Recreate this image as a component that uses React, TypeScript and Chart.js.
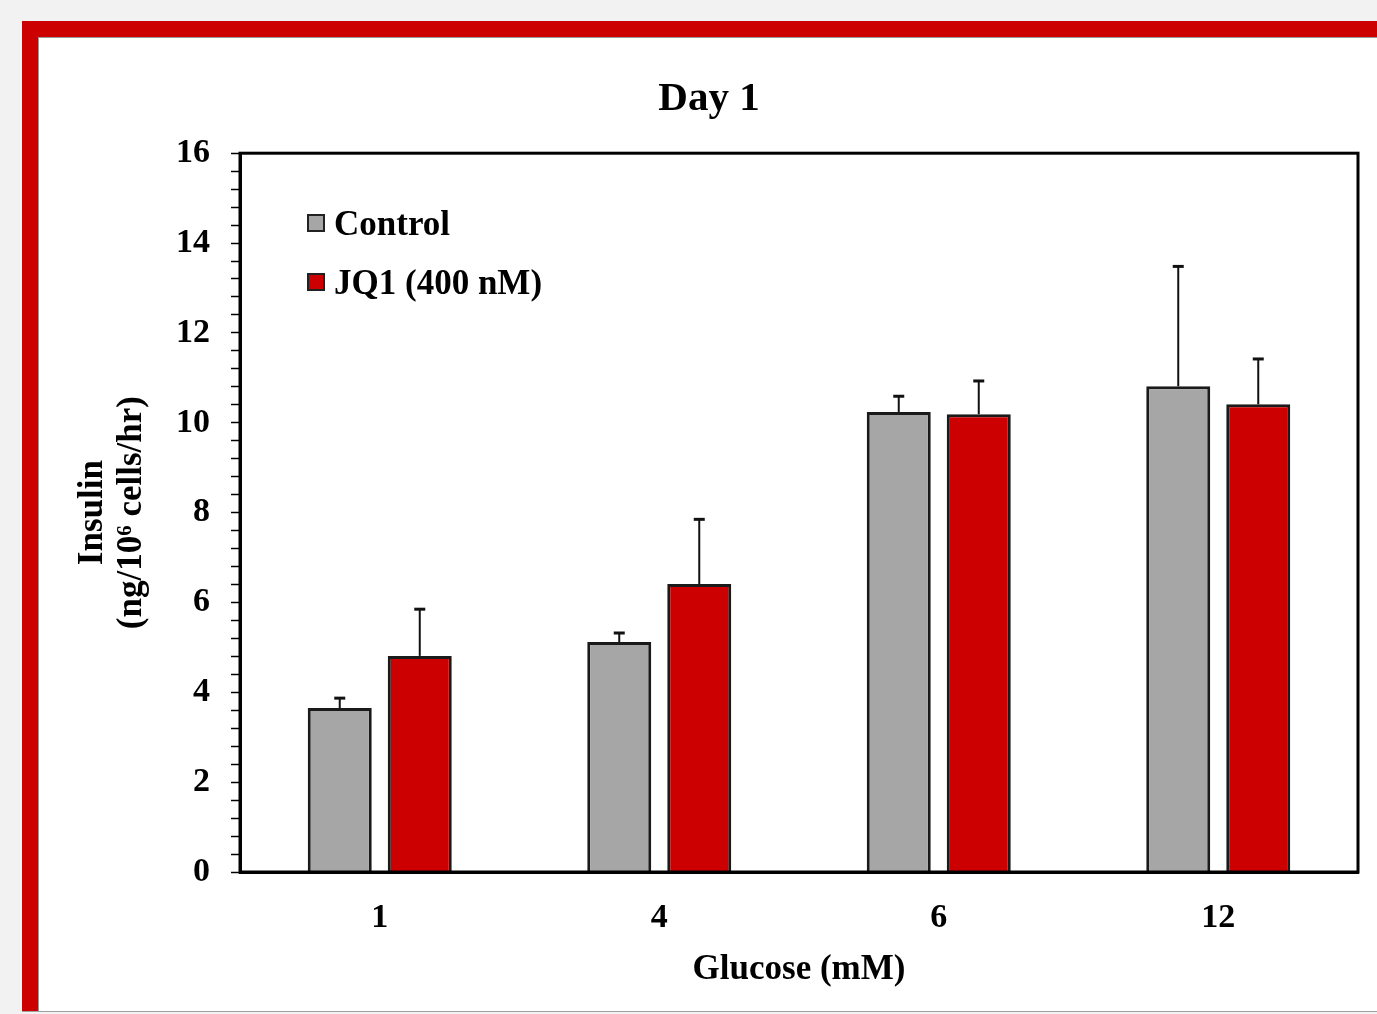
import React, { useEffect, useRef } from "react";
import { Chart, registerables } from "chart.js";

Chart.register(...registerables);

const categories = ["1", "4", "6", "12"];
const controlValues = [3.65, 5.12, 10.24, 10.81];
const controlErrors = [0.22, 0.2, 0.35, 2.67];
const jq1Values = [4.81, 6.41, 10.19, 10.41];
const jq1Errors = [1.04, 1.44, 0.74, 1.01];
const seriesLabels = ["Control", "JQ1 (400 nM)"];
const titleText = "Day 1";
const xTitle = "Glucose (mM)";
const yTitle = ["Insulin", "(ng/10\u2076 cells/hr)"];

const FONT = "'Liberation Serif', 'Times New Roman', serif";

const errorBarPlugin = {
  id: "errorBars",
  afterDatasetsDraw(chart: any) {
    const ctx = chart.ctx;
    const yScale = chart.scales.y;
    chart.data.datasets.forEach((ds: any, di: number) => {
      const meta = chart.getDatasetMeta(di);
      const errs: number[] = ds.errors || [];
      meta.data.forEach((bar: any, i: number) => {
        const v = ds.data[i];
        const e = errs[i];
        if (e == null) return;
        const yTop = yScale.getPixelForValue(v + e);
        const yBar = yScale.getPixelForValue(v);
        ctx.save();
        ctx.strokeStyle = "#111";
        ctx.lineWidth = 2;
        ctx.beginPath();
        ctx.moveTo(bar.x, yBar);
        ctx.lineTo(bar.x, yTop);
        ctx.stroke();
        ctx.lineWidth = 3;
        ctx.beginPath();
        ctx.moveTo(bar.x - 5.5, yTop);
        ctx.lineTo(bar.x + 5.5, yTop);
        ctx.stroke();
        ctx.restore();
      });
    });
  },
};

const framePlugin = {
  id: "frame",
  afterDraw(chart: any) {
    const { left, right, top, bottom } = chart.chartArea;
    const ctx = chart.ctx;
    ctx.save();
    ctx.strokeStyle = "#000";
    ctx.lineWidth = 3;
    ctx.strokeRect(left, top, right - left, bottom - top);
    ctx.restore();
  },
};

const legendPlugin = {
  id: "customLegend",
  afterDraw(chart: any) {
    const ctx = chart.ctx;
    const x0 = 307;
    const y0 = 214;
    const rowGap = 59;
    ctx.save();
    chart.data.datasets.forEach((ds: any, i: number) => {
      const y = y0 + i * rowGap;
      ctx.fillStyle = ds.backgroundColor;
      ctx.fillRect(x0, y, 18, 18);
      ctx.strokeStyle = "#222";
      ctx.lineWidth = 2;
      ctx.strokeRect(x0 + 1, y + 1, 16, 16);
      ctx.fillStyle = "#000";
      ctx.font = `bold 35px ${FONT}`;
      ctx.textBaseline = "alphabetic";
      ctx.textAlign = "left";
      ctx.fillText(ds.label, x0 + 27, y + 21);
    });
    ctx.restore();
  },
};

export default function App() {
  const canvasRef = useRef<HTMLCanvasElement | null>(null);

  useEffect(() => {
    const canvas = canvasRef.current;
    if (!canvas) return;
    const chart = new Chart(canvas, {
      type: "bar",
      data: {
        labels: categories,
        datasets: [
          {
            label: seriesLabels[0],
            data: controlValues,
            errors: controlErrors,
            backgroundColor: "#a6a6a6",
            borderColor: "#1a1a1a",
            borderWidth: 3,
            categoryPercentage: 0.5725,
            barPercentage: 0.8,
          } as any,
          {
            label: seriesLabels[1],
            data: jq1Values,
            errors: jq1Errors,
            backgroundColor: "#cc0000",
            borderColor: "#1a1a1a",
            borderWidth: 3,
            categoryPercentage: 0.5725,
            barPercentage: 0.8,
          } as any,
        ],
      },
      options: {
        responsive: false,
        animation: false,
        devicePixelRatio: 1,
        layout: { padding: { left: 60, right: 19, top: 0, bottom: 0 } },
        plugins: {
          legend: { display: false },
          tooltip: { enabled: false },
          title: {
            display: true,
            text: titleText,
            color: "#000",
            font: { family: FONT, size: 41, weight: "bold", lineHeight: 1.2 },
            padding: { top: 75, bottom: 29 },
          },
        },
        scales: {
          x: {
            grid: { display: false, drawTicks: false },
            border: { display: true, color: "#000", width: 3 },
            ticks: {
              color: "#000",
              padding: 26,
              font: { family: FONT, size: 34, weight: "bold" },
            },
            title: {
              display: true,
              text: xTitle,
              color: "#000",
              font: { family: FONT, size: 35, weight: "bold", lineHeight: 1.2 },
              padding: { top: 0, bottom: 23 },
            },
            afterFit(scale: any) {
              scale.height = 142;
            },
          },
          y: {
            min: 0,
            max: 16,
            grid: {
              display: true,
              drawOnChartArea: false,
              drawTicks: true,
              tickLength: 9,
              tickColor: "#000",
              tickWidth: 1.5,
            },
            border: { display: true, color: "#000", width: 3 },
            ticks: {
              stepSize: 0.4,
              autoSkip: false,
              color: "#000",
              padding: 21,
              font: { family: FONT, size: 34, weight: "bold" },
              callback(value: any) {
                const v = Number(value);
                const r = Math.round(v / 2) * 2;
                return Math.abs(v - r) < 1e-6 ? String(r) : "";
              },
            },
            title: {
              display: true,
              text: yTitle,
              color: "#000",
              font: { family: FONT, size: 35, weight: "bold", lineHeight: 1.12 },
              padding: { top: 13, bottom: 0 },
            },
            afterFit(scale: any) {
              scale.width = 180;
            },
          },
        },
      } as any,
      plugins: [errorBarPlugin, framePlugin, legendPlugin],
    });
    return () => chart.destroy();
  }, []);

  return (
    <div
      style={{
        position: "fixed",
        left: 0,
        top: 0,
        width: 1377,
        height: 1014,
        overflow: "hidden",
        background: "#f2f2f2",
      }}
    >
      <div
        style={{
          position: "absolute",
          left: 22,
          top: 21,
          width: 1500,
          height: 991,
          boxSizing: "border-box",
          background: "#cc0000",
          borderBottom: "1px solid #a0a0a0",
        }}
      >
        <div
          style={{
            position: "absolute",
            left: 16,
            top: 16,
            right: 0,
            bottom: 0,
            background: "#fff",
            borderLeft: "1px solid #999",
            borderTop: "1px solid #999",
          }}
        />
      </div>
      <canvas
        ref={canvasRef}
        width={1377}
        height={1014}
        style={{ position: "absolute", left: 0, top: 0, width: 1377, height: 1014 }}
      />
    </div>
  );
}
